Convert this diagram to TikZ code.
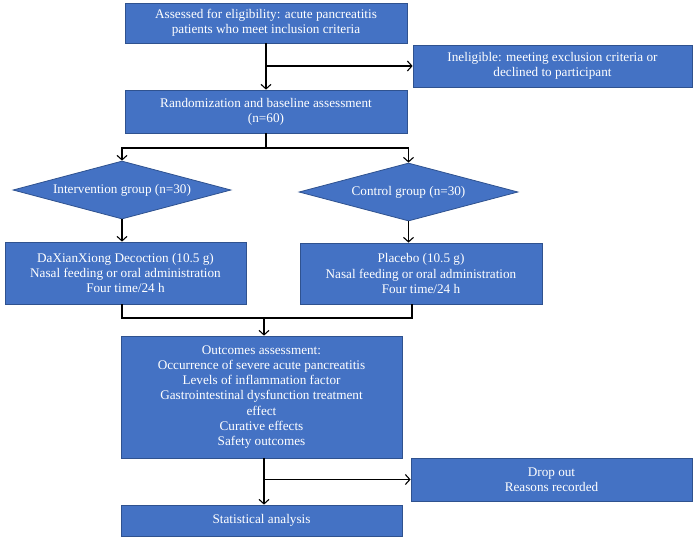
\documentclass[tikz,border=0pt]{standalone}
\usepackage{fontspec}
\setmainfont{Liberation Serif}
\usetikzlibrary{shapes.geometric,arrows.meta}
\definecolor{boxfill}{HTML}{4472C4}
\definecolor{boxline}{HTML}{2F528F}
\tikzset{
  box/.style={draw=boxline, line width=0.8pt, fill=boxfill, text=white, align=center,
    inner sep=0pt, font=\fontsize{13.2}{15.2}\selectfont},
  dia/.style={box, shape=diamond},
  arr/.style={line width=1.3pt, -{Straight Barb[length=4.5pt,width=10pt,line width=1.1pt]}},
  ln/.style={line width=1.3pt}
}
\begin{document}
\begin{tikzpicture}[x=1pt,y=-1pt]
\useasboundingbox (0,0) rectangle (698,539);
\node[box, minimum width=282, minimum height=40] (a1) at (266,23)
  {Assessed for eligibility: acute pancreatitis\\patients who meet inclusion criteria};
\node[box, minimum width=279, minimum height=42] (inel) at (552.5,66)
  {Ineligible: meeting exclusion criteria or\\declined to participant};
\node[box, minimum width=282, minimum height=43] (rand) at (266,111.5)
  {Randomization and baseline assessment\\(n=60)};
\node[dia, minimum width=218, minimum height=58, aspect=3.76] (int) at (122,190)
  {Intervention group (n=30)};
\node[dia, minimum width=219, minimum height=58, aspect=3.76] (ctrl) at (408.5,192)
  {Control group (n=30)};
\node[box, minimum width=241, minimum height=62] (dax) at (125.5,273)
  {DaXianXiong Decoction (10.5 g)\\Nasal feeding or oral administration\\Four time/24 h};
\node[box, minimum width=242, minimum height=61] (plac) at (421,273.5)
  {Placebo (10.5 g)\\Nasal feeding or oral administration\\Four time/24 h};
\node[box, minimum width=281, minimum height=122] (out) at (261.5,397)
  {Outcomes assessment:\\Occurrence of severe acute pancreatitis\\Levels of inflammation factor\\Gastrointestinal dysfunction treatment\\effect\\Curative effects\\Safety outcomes};
\node[box, minimum width=281, minimum height=43] (drop) at (551.5,479.5)
  {Drop out\\Reasons recorded};
\node[box, minimum width=281, minimum height=31] (stat) at (261.5,520.5)
  {Statistical analysis};
% connectors
\draw[arr] (a1) -- (rand);
\draw[arr] (a1.south |- inel.west) -- (inel.west);
\coordinate (j1) at (266,148);
\draw[ln] (rand.south) -- (j1);
\draw[arr] (j1) -| (int.north);
\draw[arr] (j1) -| (ctrl.north);
\draw[arr] (int.south) -- (int.south |- dax.north);
\draw[arr] (ctrl.south) -- (ctrl.south |- plac.north);
\coordinate (j2) at (264,318);
\draw[ln] (int.south |- dax.south) -- (int.south |- j2) -- (412,318) coordinate (j3) -- (j3 |- plac.south);
\draw[arr] (j2) -- (j2 |- out.north);
\draw[arr] (out.south -| j2) -- (stat.north -| j2);
\draw[arr] (j2 |- drop.west) -- (drop.west);
\end{tikzpicture}
\end{document}
